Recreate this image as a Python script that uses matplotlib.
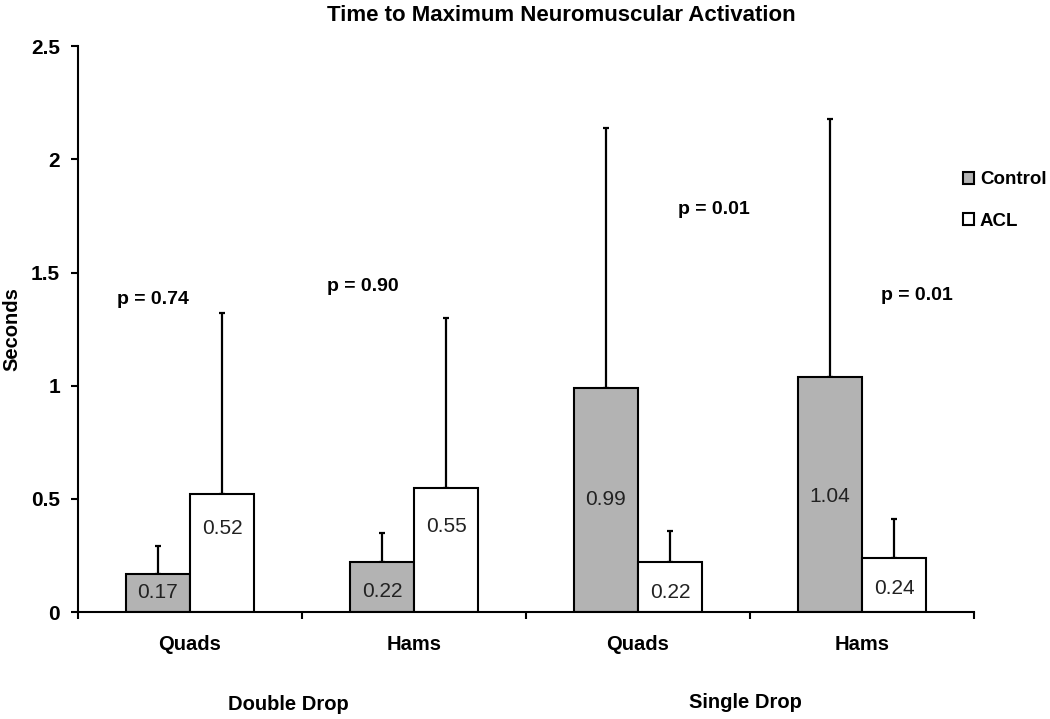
import numpy as np
import matplotlib.pyplot as plt
from matplotlib.patches import Patch

plt.rcParams["font.family"] = ["Liberation Sans", "DejaVu Sans"]

categories = ["Quads", "Hams", "Quads", "Hams"]
groups = ["Double Drop", "Single Drop"]
control = [0.17, 0.22, 0.99, 1.04]
acl = [0.52, 0.55, 0.22, 0.24]
control_err = [0.12, 0.13, 1.15, 1.14]
acl_err = [0.80, 0.75, 0.14, 0.17]
p_values = ["p = 0.74", "p = 0.90", "p = 0.01", "p = 0.01"]

# label height as fraction of the bar height
control_lab_frac = [0.5, 0.42, 0.5, 0.49]
acl_lab_frac = [0.71, 0.69, 0.39, 0.44]
# p-value text positions (category units, data y)
p_pos = [(-0.165, 1.38), (0.77, 1.44), (2.34, 1.78), (3.245, 1.40)]

fig = plt.figure(figsize=(10.5, 7.19), dpi=100)
ax = fig.add_axes([0.0743, 0.1488, 0.8533, 0.7870])

x = np.arange(len(categories))
w = 0.286

ax.bar(x - w / 2, control, w, color="#b3b3b3", edgecolor="black", linewidth=1.5, zorder=2)
ax.bar(x + w / 2, acl, w, color="white", edgecolor="black", linewidth=1.5, zorder=2)
ax.errorbar(x - w / 2, control, yerr=[np.zeros(4), control_err], fmt="none",
            ecolor="black", elinewidth=1.6, capsize=2.5, capthick=1.6, zorder=1)
ax.errorbar(x + w / 2, acl, yerr=[np.zeros(4), acl_err], fmt="none",
            ecolor="black", elinewidth=1.6, capsize=2.5, capthick=1.6, zorder=1)

for i in range(len(categories)):
    ax.text(x[i] - w / 2, control[i] * control_lab_frac[i], f"{control[i]:.2f}",
            ha="center", va="center", fontsize=15, color="#222222", zorder=3)
    ax.text(x[i] + w / 2, acl[i] * acl_lab_frac[i], f"{acl[i]:.2f}",
            ha="center", va="center", fontsize=15, color="#222222", zorder=3)
    ax.text(p_pos[i][0], p_pos[i][1], p_values[i], ha="center", va="center",
            fontsize=14, fontweight="bold")

ax.set_xlim(-0.5, 3.5)
ax.set_ylim(0, 2.5)
ax.set_yticks([0, 0.5, 1, 1.5, 2, 2.5])
ax.set_yticklabels(["0", "0.5", "1", "1.5", "2", "2.5"], fontsize=15, fontweight="bold")
ax.set_xticks(np.arange(-0.5, 4, 1))
ax.set_xticklabels([])
ax.tick_params(axis="both", direction="out", length=5, width=1.5)
ax.tick_params(axis="y", pad=8)
for i, c in enumerate(categories):
    ax.text(x[i], -0.145, c, ha="center", va="center", fontsize=14.5, fontweight="bold")
ax.text(0.44, -0.41, groups[0], ha="center", va="center", fontsize=14.5, fontweight="bold")
ax.text(2.48, -0.40, groups[1], ha="center", va="center", fontsize=14.5, fontweight="bold")

for s in ["top", "right"]:
    ax.spines[s].set_visible(False)
for s in ["left", "bottom"]:
    ax.spines[s].set_linewidth(1.5)

ax.set_ylabel("Seconds", fontsize=14.5, fontweight="bold", va="center")
ax.yaxis.set_label_coords(-0.074, 0.50)
fig.text(0.535, 0.978, "Time to Maximum Neuromuscular Activation", ha="center",
         va="center", fontsize=16, fontweight="bold")

handles = [Patch(facecolor="#b3b3b3", edgecolor="black", linewidth=1.5),
           Patch(facecolor="white", edgecolor="black", linewidth=1.5)]
fig.legend(handles, ["Control", "ACL"], loc="center left", bbox_to_anchor=(0.901, 0.721),
           frameon=False, handlelength=0.6, handleheight=0.6, handletextpad=0.3,
           labelspacing=1.3, prop={"weight": "bold", "size": 13.5})

fig.savefig("out.png", dpi=100)
